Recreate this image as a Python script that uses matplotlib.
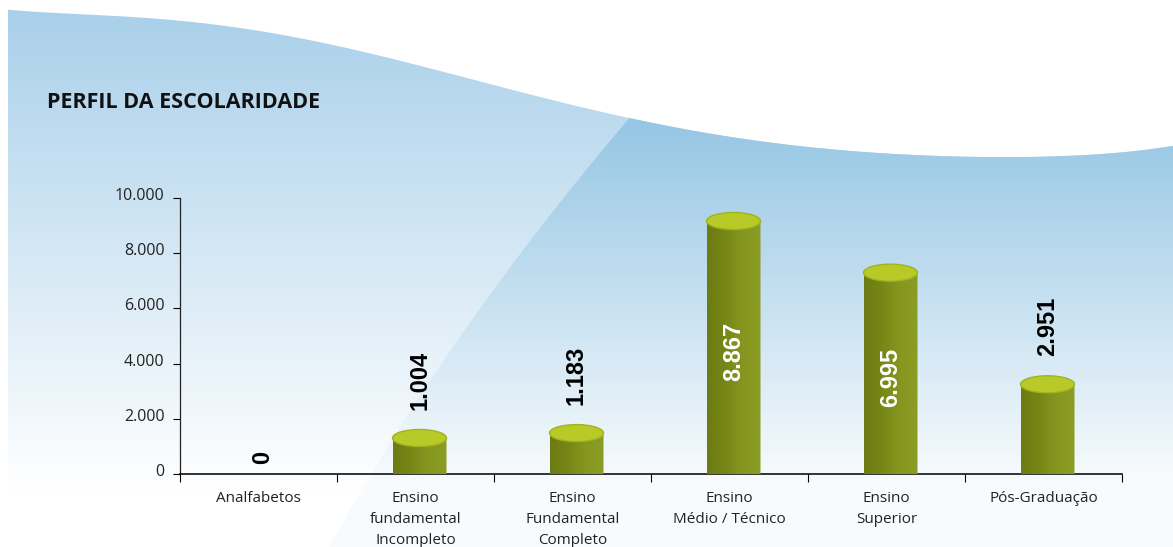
import numpy as np
import matplotlib
matplotlib.use("Agg")
import matplotlib.pyplot as plt
from matplotlib.patches import Polygon, Ellipse
from matplotlib.colors import LinearSegmentedColormap, to_rgb
from matplotlib.ticker import FuncFormatter, FixedLocator
from matplotlib.transforms import ScaledTranslation

# dados
categorias = ["Analfabetos", "Ensino\nfundamental\nIncompleto", "Ensino\nFundamental\nCompleto",
              "Ensino\nMédio / Técnico", "Ensino\nSuperior", "Pós-Graduação"]
valores = [0, 1004, 1183, 8867, 6995, 2951]
rotulos = ["0", "1.004", "1.183", "8.867", "6.995", "2.951"]
dentro = [False, False, False, True, True, False]
yticks = [0, 2000, 4000, 6000, 8000, 10000]

W, H = 1173, 547
fig = plt.figure(figsize=(W / 100, H / 100), dpi=100)
fig.patch.set_facecolor("white")

# ----- fundo (onda azul) -----
bg = fig.add_axes([0, 0, 1, 1], zorder=0)
bg.set_xlim(0, W)
bg.set_ylim(H, 0)
bg.axis("off")

# contorno superior da onda (ajuste suave)
cx = np.array([8, 100, 200, 300, 383, 450, 500, 560, 627, 700, 780, 860, 960, 1050, 1120, 1173])
cy = np.array([10, 14, 24, 39, 56, 72, 86, 103, 119, 132, 143, 151, 157, 157, 152, 146])
coef = np.polyfit(cx / 1000, cy, 6)
xs = np.linspace(8, W, 300)
topo = list(zip(xs, np.polyval(coef, xs / 1000)))

# diagonal que separa a parte clara
dy = np.array([547, 500, 433, 367, 300, 233, 175, 119])
dx = np.array([335, 353, 388, 440, 491, 540, 580, 627])
cd = np.polyfit(dy, dx, 2)
ys_d = np.linspace(H, 119, 80)
diagonal = list(zip(np.polyval(cd, ys_d), ys_d))
x_top = np.polyval(cd, 119)


def gradiente(c_top, y_top, c_bot, y_bot):
    ys = np.arange(H) + 0.5
    t = np.clip((ys - y_top) / (y_bot - y_top), 0, 1)[:, None]
    a, b = np.array(to_rgb(c_top)), np.array(to_rgb(c_bot))
    col = a * (1 - t) + b * t
    return np.repeat(col[:, None, :], 2, axis=1)


forma1 = Polygon([(8, H)] + topo + [(W, H)], closed=True, fc="none", ec="none")
bg.add_patch(forma1)
im1 = bg.imshow(gradiente("#a9d0ea", 10, "#ffffff", 490), extent=[0, W, H, 0], aspect="auto")
im1.set_clip_path(forma1)

topo_dir = [q for q in topo if q[0] > x_top]
forma2 = Polygon(diagonal + [(x_top, np.polyval(coef, x_top / 1000))] + topo_dir + [(W, H)],
                 closed=True, fc="none", ec="none")
bg.add_patch(forma2)
im2 = bg.imshow(gradiente("#95c6e4", 118, "#f8fbfd", 480), extent=[0, W, H, 0], aspect="auto")
im2.set_clip_path(forma2)
bg.set_xlim(0, W)
bg.set_ylim(H, 0)

fig.text(47 / W, 1 - 103 / H, "PERFIL DA ESCOLARIDADE", fontsize=15.5, fontweight="bold",
         family="Open Sans", color="#111111", va="center", ha="left")

# ----- gráfico -----
ax = fig.add_axes([180 / W, (H - 474) / H, 942 / W, 276 / H], zorder=1)
ax.set_facecolor("none")
ax.set_xlim(0, 6)
ax.set_ylim(0, 10000)

px_y = 10000 / 276.0      # unidades por pixel (y)
largura = 54 / 157.0
eh = 8.5 * px_y            # meia altura da elipse
prof = 300                 # deslocamento 3D
desl_x = 4 / 157.0

cmap_corpo = LinearSegmentedColormap.from_list("corpo", ["#6c7b13", "#778716", "#869720", "#8c9d26"])
grad = np.linspace(0, 1, 100)[None, :]

for i, v in enumerate(valores):
    xc = i + 0.5 + desl_x
    if v > 0:
        top = v + prof
        x0, x1 = xc - largura / 2, xc + largura / 2
        th = np.linspace(np.pi, 2 * np.pi, 60)
        arco = list(zip(xc + largura / 2 * np.cos(th), eh * np.sin(th)))
        corpo = Polygon([(x0, top)] + arco + [(x1, top)], closed=True, fc="none", ec="none",
                        clip_on=False)
        ax.add_patch(corpo)
        img = ax.imshow(grad, extent=[x0, x1, -eh, top], aspect="auto", cmap=cmap_corpo,
                        zorder=3, interpolation="bilinear")
        img.set_clip_path(corpo)
        img.set_clip_box(None)
        ax.add_patch(Ellipse((xc, top), largura, 2 * eh, fc="#b8ca28", ec="#a2b31f", lw=1,
                             zorder=4, clip_on=False))
        if dentro[i]:
            ax.text(xc, v / 2, rotulos[i], rotation=90, ha="center", va="center", color="white",
                    fontsize=17, fontweight="bold", family="Liberation Sans", zorder=5)
        else:
            ax.annotate(rotulos[i], (xc, top), xytext=(0, 20), textcoords="offset points",
                        rotation=90, ha="center", va="bottom", color="black", fontsize=17,
                        fontweight="bold", family="Liberation Sans", zorder=5)
    else:
        ax.annotate(rotulos[i], (xc, 0), xytext=(0, 7), textcoords="offset points",
                    rotation=90, ha="center", va="bottom", color="black", fontsize=17,
                    fontweight="bold", family="Liberation Sans", zorder=5)

ax.set_xlim(0, 6)
ax.set_ylim(0, 10000)

for s in ["top", "right"]:
    ax.spines[s].set_visible(False)
ax.spines["left"].set_color("#222222")
ax.spines["bottom"].set_color("#111111")
ax.spines["left"].set_linewidth(0.9)
ax.spines["bottom"].set_linewidth(1.2)

ax.yaxis.set_major_locator(FixedLocator(yticks))
ax.yaxis.set_major_formatter(FuncFormatter(lambda v, p: f"{int(v):,}".replace(",", ".")))
ax.tick_params(axis="y", length=5, width=0.8, pad=6, labelsize=11.5, labelcolor="#222222")
for lab in ax.get_yticklabels():
    lab.set_family("Open Sans")
    lab.set_transform(lab.get_transform() + ScaledTranslation(0, 4 / 100, fig.dpi_scale_trans))

ax.set_xticks(np.arange(7))
ax.set_xticklabels([])
ax.set_xticks(np.arange(6) + 0.5, minor=True)
ax.set_xticklabels(categorias, minor=True, family="Open Sans", fontsize=11, color="#222222",
                   linespacing=1.55)
ax.tick_params(axis="x", which="major", length=6, width=0.8)
ax.tick_params(axis="x", which="minor", length=0, pad=12)

fig.savefig("out.png", dpi=100, facecolor="white")
